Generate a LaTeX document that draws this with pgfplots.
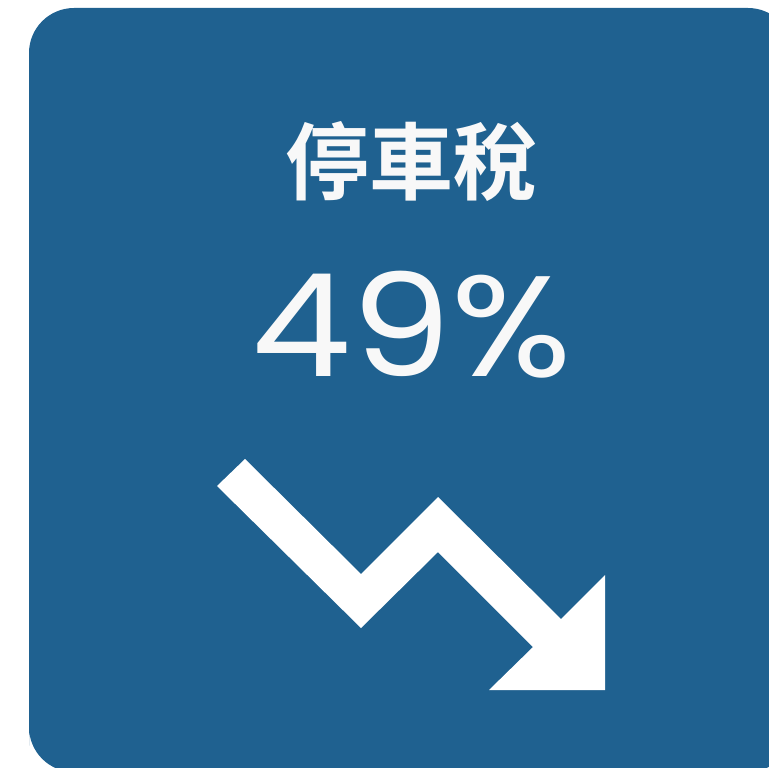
\documentclass[border=0pt]{standalone}
\usepackage{pgfplots}
\pgfplotsset{compat=1.18}
\usepackage{fontspec}
\setmainfont{Poppins}[FakeStretch=1.11]
\newfontfamily\cjk{Noto Sans CJK TC}[BoldFont={* Bold}]
\definecolor{panel}{HTML}{1F6190}
\definecolor{ink}{HTML}{F8F8F8}
\begin{document}
\begin{tikzpicture}
\begin{axis}[
  scale only axis, width=769pt, height=768pt,
  xmin=0, xmax=769, ymin=0, ymax=768, y dir=reverse,
  hide axis, clip=true,
]
% panel, runs off the right and bottom edges
\addplot[draw=none, fill=panel, rounded corners=45pt] coordinates {
  (29,772) (29,8) (793,8) (793,772) (29,772)} -- cycle;
% falling arrow
\addplot[draw=none, fill=white] coordinates {
  (245,459) (217,486) (361,628) (438,552) (533,647) (489,690)
  (605,690) (605,575) (561,619) (438,497) (361,574) (245,459)} -- cycle;
\node[text=ink, font=\cjk\bfseries\fontsize{84}{84}\selectfont, anchor=center] at (axis cs:411,161.5) {停車稅};
\node[text=ink, font=\fontsize{143}{143}\selectfont, anchor=center] at (axis cs:412,324.5) {49\%};
\end{axis}
\path[use as bounding box] (0,0) rectangle (769pt,768pt);
\end{tikzpicture}
\end{document}
